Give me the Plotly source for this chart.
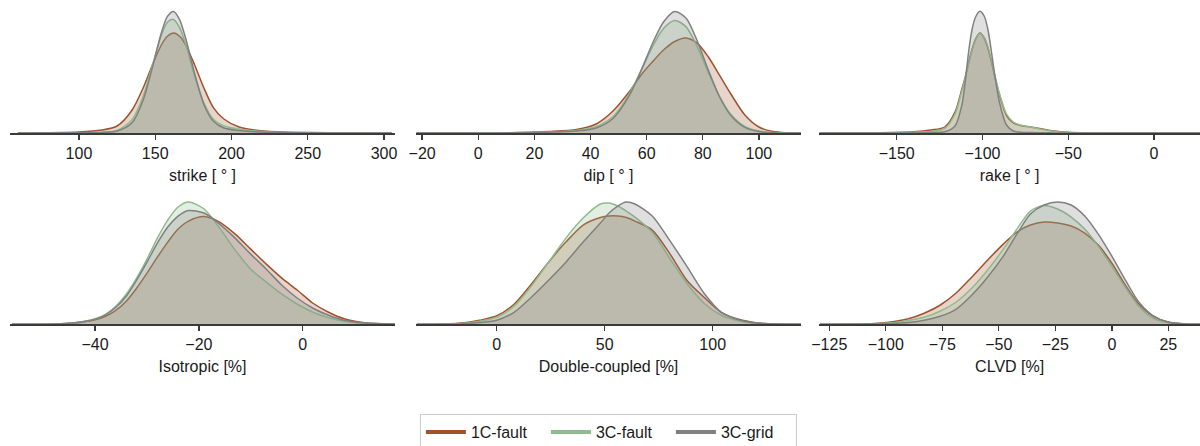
import plotly.graph_objects as go

# ---------------- data (relative KDE density) ----------------
series_names = ["1C-fault", "3C-fault", "3C-grid"]

strike_x = [60, 100, 115, 125, 135, 142, 148, 154, 158, 162, 166, 170, 176, 182, 188, 195, 205, 215, 230, 250, 280, 305]
strike_1c_fault = [0, 1, 3, 7, 23.3, 44.8, 67.5, 88, 96.8, 100, 96.8, 88, 67.5, 44.8, 25.7, 14, 6, 3, 1.2, 0.4, 0.1, 0]
strike_3c_fault = [0, 0.3, 0.8, 2.5, 13.6, 36.4, 67, 97.7, 110.8, 113.6, 105.4, 88.4, 56, 30, 14, 7, 4, 2, 0.8, 0.3, 0.1, 0]
strike_3c_grid = [0, 0.2, 0.5, 2, 10.6, 32.5, 64.6, 100, 116.6, 121.6, 113.4, 94.5, 58.7, 28.2, 12, 5, 2.5, 1.2, 0.5, 0.2, 0.05, 0]

dip_x = [-22, 0, 15, 25, 35, 42, 48, 54, 58, 62, 66, 70, 74, 78, 82, 86, 90, 95, 100, 105, 110, 115]
dip_1c_fault = [0, 0.1, 0.5, 1.5, 3.5, 9, 22, 42, 58, 71, 83, 91.5, 95, 89.9, 76, 57.6, 39, 18, 6, 1.5, 0.3, 0.1]
dip_3c_fault = [0, 0.1, 0.4, 1, 2.5, 6.5, 16.5, 40.2, 62.4, 85.8, 104.4, 112.5, 106.4, 86.4, 60.4, 36.3, 18.7, 6.6, 1.9, 0.4, 0.1, 0]
dip_3c_grid = [0, 0, 0.3, 0.8, 2, 5, 14.5, 38.4, 62.4, 89, 111, 121.5, 115, 92.3, 62.6, 36, 17.5, 5.6, 1.4, 0.2, 0, 0]

rake_x = [-195, -160, -140, -130, -122, -116, -112, -110, -108, -106, -104, -101.5, -99, -97, -95, -93, -90, -86, -82, -78, -72, -65, -58, -50, -40, -20, 0, 27]
rake_1c_fault = [0, 0.3, 1.2, 3, 6, 20.9, 44, 56, 71, 84, 94, 100, 95, 86, 73, 58, 37.4, 17.5, 10, 7.5, 6, 4, 2, 0.8, 0.3, 0.1, 0.05, 0]
rake_3c_fault = [0, 0.1, 0.8, 1.5, 4.5, 19, 42, 55, 70, 83, 93.5, 100, 95.5, 87, 74, 59, 39, 19, 11, 8, 6, 3.5, 1.5, 0.6, 0.3, 0.1, 0, 0]
rake_3c_grid = [0, 0, 0.1, 0.4, 1.2, 7, 28, 52, 82, 104, 116, 121.7, 117, 105, 84, 60, 30, 8, 2, 0.8, 0.4, 0.2, 0.1, 0, 0, 0, 0, 0]

iso_x = [-56, -48, -44, -40, -38, -36, -34, -32, -30, -28, -26, -24, -22, -19, -16, -13, -10, -7, -4, -1, 2, 5, 8, 12, 18]
iso_1c_fault = [0, 0.3, 1.2, 4.5, 8, 14, 23, 36, 51, 67, 82, 95, 103, 107.5, 102, 90, 75, 60, 46, 34, 21, 12, 5.5, 1.5, 0.2]
iso_3c_fault = [0, 0.3, 1.5, 5.5, 10, 18, 30, 46, 65, 86, 104, 117, 122, 115, 96, 74, 55, 42, 30, 20, 12, 6.5, 3, 1, 0.1]
iso_3c_grid = [0, 0.3, 1.5, 5, 9.5, 17, 28, 44, 62, 81, 97, 108, 113.5, 111, 100, 86, 70, 55, 39, 26, 16, 9, 4, 1.2, 0.1]

dc_x = [-37, -25, -15, -8, 0, 8, 16, 24, 32, 40, 48, 52, 56, 60, 64, 72, 80, 88, 96, 104, 112, 120, 130, 141]
dc_1c_fault = [0, 0.3, 1.5, 4, 8.5, 20, 40, 62, 82, 99, 106.5, 108, 108, 106.5, 103, 94, 71, 44, 27, 12, 5, 1.6, 0.3, 0]
dc_3c_fault = [0, 0.2, 1, 3, 7, 18, 38, 62, 86, 106, 120, 121, 118, 113, 107, 92, 66, 41, 21, 9, 3.5, 1, 0.2, 0]
dc_3c_grid = [0, 0.1, 0.6, 1.8, 4, 12, 27, 44, 62, 82, 101, 111, 118, 122, 120, 108, 84, 58, 31, 12, 4.5, 1.2, 0.2, 0]

clvd_x = [-129, -115, -105, -97, -90, -83, -76, -69, -62, -55, -48, -42, -36, -30, -24, -18, -12, -6, 0, 6, 12, 18, 25, 32, 39]
clvd_1c_fault = [0, 0.2, 0.8, 2.5, 5.5, 11, 19, 31, 47, 64, 80, 92, 99, 102, 101, 98, 91, 79, 61, 39, 20, 8.5, 2.2, 0.4, 0]
clvd_3c_fault = [0, 0.1, 0.4, 1.5, 3.8, 7, 13, 22, 36, 54, 75, 95, 113, 118.5, 115, 107, 95, 78, 58, 37, 18, 6.5, 1.5, 0.2, 0]
clvd_3c_grid = [0, 0, 0.2, 0.7, 1.8, 4, 8, 15, 29, 47, 68, 90, 110, 119, 122, 119, 108, 90, 68, 44, 22, 9, 2, 0.3, 0]

axis_titles = ["strike [ ° ]", "dip [ ° ]", "rake [ ° ]", "Isotropic [%]", "Double-coupled [%]", "CLVD [%]"]

strike_ticks = [100, 150, 200, 250, 300]
dip_ticks = [-20, 0, 20, 40, 60, 80, 100]
rake_ticks = [-150, -100, -50, 0]
iso_ticks = [-40, -20, 0]
dc_ticks = [0, 50, 100]
clvd_ticks = [-125, -100, -75, -50, -25, 0, 25]

# ---------------- styling / layout ----------------
colors = {"1C-fault": "#a0522d", "3C-fault": "#8fbc8f", "3C-grid": "#808080"}
fills = {"1C-fault": "rgba(160,82,45,0.25)", "3C-fault": "rgba(143,188,143,0.25)", "3C-grid": "rgba(128,128,128,0.25)"}

panels = [
    (strike_x, [strike_1c_fault, strike_3c_fault, strike_3c_grid], strike_ticks, [54.8, 307.2]),
    (dip_x, [dip_1c_fault, dip_3c_fault, dip_3c_grid], dip_ticks, [-22.2, 115.0]),
    (rake_x, [rake_1c_fault, rake_3c_fault, rake_3c_grid], rake_ticks, [-195.1, 26.8]),
    (iso_x, [iso_1c_fault, iso_3c_fault, iso_3c_grid], iso_ticks, [-56.4, 17.8]),
    (dc_x, [dc_1c_fault, dc_3c_fault, dc_3c_grid], dc_ticks, [-37.4, 140.9]),
    (clvd_x, [clvd_1c_fault, clvd_3c_fault, clvd_3c_grid], clvd_ticks, [-129.4, 39.0]),
]

W, H = 1200, 446
col_px = [(10, 395), (416, 801), (819.3, 1200)]
row_px = [(5, 133), (196, 324.3)]

FONT = "Liberation Sans, Arial, Helvetica, sans-serif"
AX_COLOR = "#3a3a3a"

def tick_text(v):
    return ("\u2212" + str(abs(v))) if v < 0 else str(v)

fig = go.Figure()
layout = dict(
    width=W, height=H,
    margin=dict(l=0, r=0, t=0, b=0, autoexpand=False),
    paper_bgcolor="white", plot_bgcolor="white",
    font=dict(family=FONT, size=16, color="#1a1a1a"),
    showlegend=True,
)

for i, (xs, ys_list, ticks, xr) in enumerate(panels):
    r, c = divmod(i, 3)
    n = i + 1
    xa = "x" if n == 1 else f"x{n}"
    ya = "y" if n == 1 else f"y{n}"
    for name, ys in zip(series_names, ys_list):
        fig.add_trace(go.Scatter(
            x=xs, y=ys, xaxis=xa, yaxis=ya, mode="lines",
            line=dict(color=colors[name], width=1.5, shape="spline", smoothing=0.8),
            fill="tozeroy", fillcolor=fills[name],
            showlegend=False, hoverinfo="skip", name=name,
        ))
    x0, x1 = col_px[c]
    y0, y1 = row_px[r]
    layout["xaxis" if n == 1 else f"xaxis{n}"] = dict(
        domain=[x0 / W, x1 / W], range=xr, anchor=ya,
        showline=True, linecolor=AX_COLOR, linewidth=1.6,
        ticks="outside", ticklen=5, tickwidth=1.4, tickcolor=AX_COLOR,
        tickvals=ticks, ticktext=[tick_text(t) for t in ticks],
        tickfont=dict(size=16, color="#1a1a1a"),
        showgrid=False, zeroline=False, fixedrange=True,
        title=dict(text=axis_titles[i], font=dict(size=16, color="#1a1a1a"), standoff=9),
    )
    layout["yaxis" if n == 1 else f"yaxis{n}"] = dict(
        domain=[1 - y1 / H, 1 - y0 / H], range=[0, 128], anchor=xa, fixedrange=True,
        showline=False, showticklabels=False, ticks="", showgrid=False, zeroline=False,
    )

for name in series_names:
    fig.add_trace(go.Scatter(
        x=[None], y=[None], mode="lines", name=name,
        line=dict(color=colors[name], width=4), showlegend=True,
    ))

layout["legend"] = dict(
    orientation="h", x=0.507, xanchor="center", y=1 - 414 / H, yanchor="top",
    bordercolor="#cccccc", borderwidth=1, bgcolor="white",
    font=dict(size=16, color="#1a1a1a"), itemwidth=40,
    entrywidth=70, entrywidthmode="pixels",
)

fig.update_layout(**layout)
fig.write_html(
    "out.html",
    config={"displayModeBar": False, "staticPlot": True},
    post_script="document.body.style.margin='0px';document.body.style.padding='0px';",
)
